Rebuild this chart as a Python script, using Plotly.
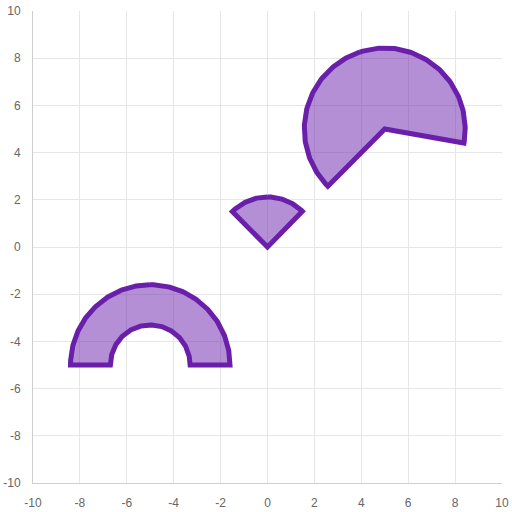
import numpy as np
import plotly.graph_objects as go

# Arc-shaped regions: center, radii, angular span (degrees)
names = ["annulus", "slice", "pacman"]
center_x = [-5, 0, 5]
center_y = [-5, 0, 5]
outer_r = [3.4, 2.12, 3.43]
inner_r = [1.7, 0.0, 0.0]
start_deg = [0, 45, -10]
end_deg = [180, 135, 225]

x_ticks = list(range(-10, 11, 2))
y_ticks = list(range(-10, 11, 2))

line_color = "#6a1fab"
fill_color = "rgba(106,31,171,0.5)"

N = 200
fig = go.Figure()
for i, name in enumerate(names):
    a = np.radians(np.linspace(start_deg[i], end_deg[i], N))
    xs = list(center_x[i] + outer_r[i] * np.cos(a))
    ys = list(center_y[i] + outer_r[i] * np.sin(a))
    if inner_r[i] > 0:
        b = a[::-1]
        xs += list(center_x[i] + inner_r[i] * np.cos(b))
        ys += list(center_y[i] + inner_r[i] * np.sin(b))
    else:
        xs.append(center_x[i])
        ys.append(center_y[i])
    # start/close the outline in the middle of the outer arc so all corners are joins
    k = N // 2
    xs = xs[k:] + xs[:k + 1]
    ys = ys[k:] + ys[:k + 1]
    fig.add_trace(go.Scatter(
        x=xs, y=ys, mode="lines", name=name, fill="toself",
        fillcolor=fill_color,
        line=dict(color=line_color, width=5),
        hoverinfo="skip", showlegend=False,
    ))

axis_common = dict(
    range=[-10, 10], showgrid=True, gridcolor="#e6e6e6", gridwidth=1,
    zeroline=False, showline=True, linecolor="#cfcfcf", linewidth=1,
    ticks="outside", ticklen=9, tickcolor="rgba(0,0,0,0)",
    tickfont=dict(family="Liberation Sans, Arial, sans-serif", size=12, color="#666"),
    fixedrange=True, automargin=False,
)

fig.update_xaxes(tickvals=x_ticks, ticktext=[str(v) for v in x_ticks], **axis_common)
fig.update_yaxes(tickvals=y_ticks, ticktext=[str(v) for v in y_ticks], **axis_common)

fig.update_layout(
    width=512, height=512,
    margin=dict(l=33, r=10, t=11, b=29),
    paper_bgcolor="white", plot_bgcolor="white",
    showlegend=False,
)

fig.write_html(
    "out.html",
    config={"displayModeBar": False},
    post_script="document.body.style.margin='0px';document.body.style.overflow='hidden';",
)
